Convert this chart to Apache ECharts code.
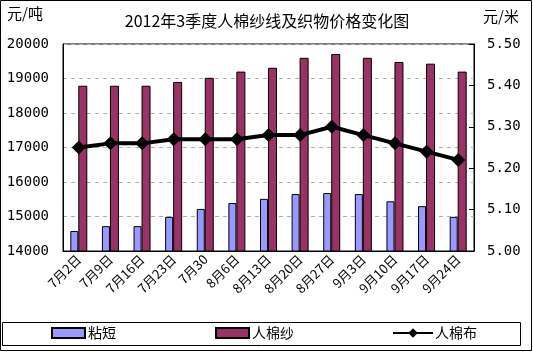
<!DOCTYPE html>
<html>
<head>
<meta charset="utf-8">
<script src="https://cdn.jsdelivr.net/npm/echarts@6/dist/echarts.min.js"></script>
<style>
html,body{margin:0;padding:0;background:#fff;}
#main{width:533px;height:352px;}
</style>
</head>
<body>
<div id="main"></div>
<script>
var categories = ['7月2日','7月9日','7月16日','7月23日','7月30','8月6日','8月13日','8月20日','8月27日','9月3日','9月10日','9月17日','9月24日'];
var nianDuan   = [14580,14720,14720,14990,15220,15390,15510,15650,15680,15650,15440,15300,14990];
var renMianSha = [18790,18790,18790,18900,19020,19200,19310,19600,19710,19600,19480,19430,19200];
var renMianBu  = [5.25,5.26,5.26,5.27,5.27,5.27,5.28,5.28,5.30,5.28,5.26,5.24,5.22];

var FONT = '"Noto Sans CJK SC", sans-serif';
var NUMFONT = '"DejaVu Sans Mono", monospace';
var myChart = echarts.init(document.getElementById('main'));
var option = {
    backgroundColor: '#fff',
    animation: false,
    title: {
        text: '2012年3季度人棉纱线及织物价格变化图',
        left: 262,
        textAlign: 'center',
        top: 8,
        textStyle: {fontFamily: FONT, fontSize: 16, fontWeight: 'normal', color: '#000'}
    },
    grid: {
        left: 63, right: 59, top: 44, bottom: 101,
        show: true, borderColor: '#000', borderWidth: 1
    },
    legend: [
        {data: [{name: '粘短', icon: 'rect'}], left: 46, top: 321, itemWidth: 33, itemHeight: 10, itemGap: 4,
         textStyle: {fontFamily: FONT, fontSize: 14, color: '#000', padding: [0, 0, 0, -2]}},
        {data: [{name: '人棉纱', icon: 'rect'}], left: 210, top: 321, itemWidth: 33, itemHeight: 10,
         textStyle: {fontFamily: FONT, fontSize: 14, color: '#000', padding: [0, 0, 0, -2]}},
        {data: ['人棉布'], left: 387, top: 321, itemWidth: 40, itemHeight: 12,
         textStyle: {fontFamily: FONT, fontSize: 14, color: '#000', padding: [0, 0, 0, -3]}}
    ],
    graphic: [
        {type: 'rect', shape: {x: 0.5, y: 0.5, width: 531, height: 350}, style: {fill: null, stroke: '#000', lineWidth: 1}, silent: true},
        {type: 'rect', shape: {x: 2.5, y: 322.5, width: 518, height: 23}, style: {fill: null, stroke: '#000', lineWidth: 1}, silent: true},
        {type: 'text', left: 7, top: 6, style: {text: '元/吨', font: '15px ' + FONT, fill: '#000'}},
        {type: 'text', left: 483, top: 9, style: {text: '元/米', font: '15px ' + FONT, fill: '#000'}}
    ],
    xAxis: {
        type: 'category',
        data: categories,
        axisLine: {lineStyle: {color: '#000'}},
        axisTick: {inside: true, length: 4, lineStyle: {color: '#000'}},
        axisLabel: {rotate: 45, fontFamily: FONT, fontSize: 13, color: '#000', margin: 6, interval: 0}
    },
    yAxis: [
        {
            type: 'value', min: 14000, max: 20000, interval: 1000,
            axisLine: {show: true, lineStyle: {color: '#000'}},
            axisTick: {show: false},
            axisLabel: {fontFamily: NUMFONT, fontSize: 14, color: '#000', margin: 14,
                formatter: function (v) { return String(v); }},
            splitLine: {show: true, lineStyle: {color: '#b0b0b0', type: [4, 4]}}
        },
        {
            type: 'value', min: 5.0, max: 5.5, interval: 0.1,
            axisLine: {show: true, lineStyle: {color: '#000'}},
            axisTick: {show: true, inside: true, length: 5, lineStyle: {color: '#000'}},
            axisLabel: {fontFamily: NUMFONT, fontSize: 14, color: '#000', margin: 13,
                formatter: function (v) { return v.toFixed(2); }},
            splitLine: {show: false}
        }
    ],
    series: [
        {
            name: '粘短', type: 'bar', data: nianDuan, barWidth: 8, barGap: '0%',
            itemStyle: {color: '#9999ff', borderColor: '#000', borderWidth: 1}
        },
        {
            name: '人棉纱', type: 'bar', data: renMianSha, barWidth: 9,
            itemStyle: {color: '#993366', borderColor: '#000', borderWidth: 1}
        },
        {
            name: '人棉布', type: 'line', yAxisIndex: 1, data: renMianBu,
            symbol: 'diamond', symbolSize: 14,
            lineStyle: {color: '#000', width: 4},
            itemStyle: {color: '#000'}
        }
    ]
};
myChart.setOption(option);
</script>
</body>
</html>
